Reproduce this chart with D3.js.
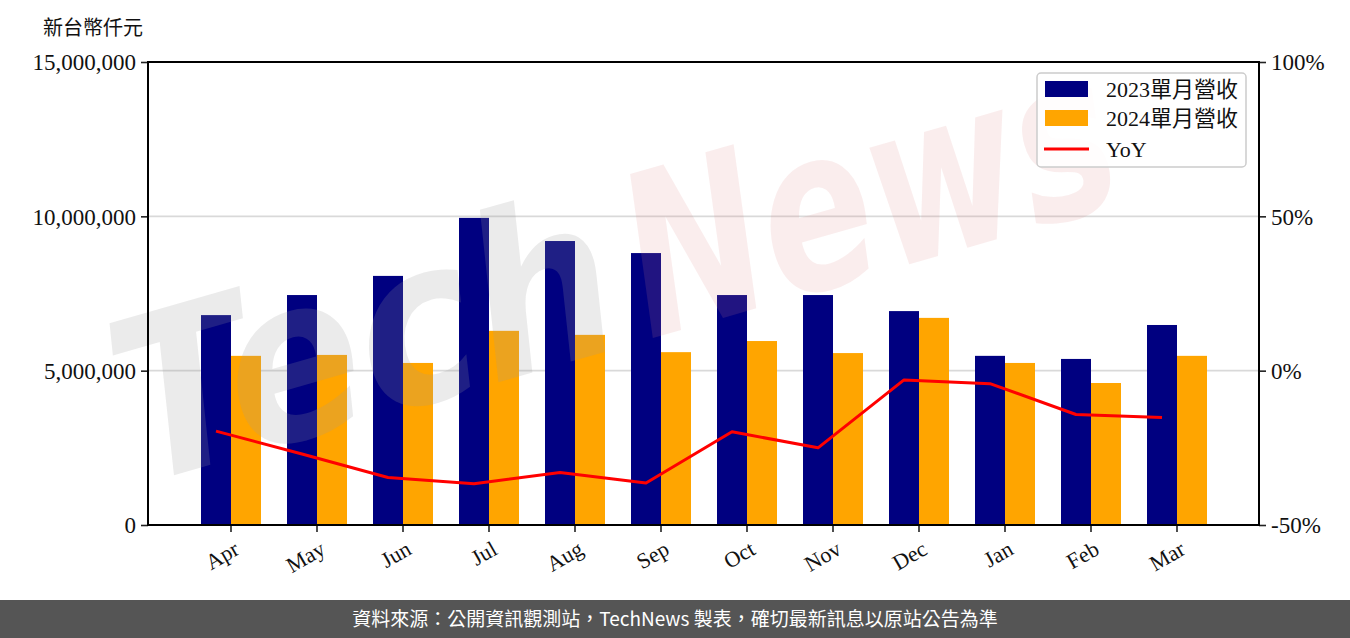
<!DOCTYPE html>
<html><head><meta charset="utf-8">
<script src="https://cdn.jsdelivr.net/npm/d3@7"></script>
<style>
html,body{margin:0;padding:0;background:#fff;}
svg{display:block;}
</style></head>
<body>
<svg id="c" width="1350" height="638"></svg>
<script>
const months = ["Apr","May","Jun","Jul","Aug","Sep","Oct","Nov","Dec","Jan","Feb","Mar"];
const rev2023 = [6800000,7450000,8070000,9950000,9200000,8810000,7450000,7450000,6930000,5480000,5380000,6480000];
const rev2024 = [5480000,5510000,5250000,6290000,6160000,5600000,5960000,5570000,6710000,5250000,4600000,5480000];
const yoy = [-19.6,-27.0,-34.6,-36.6,-33.0,-36.4,-19.8,-25.0,-3.0,-4.2,-14.2,-15.2];
const leftTicks = [0,5000000,10000000,15000000];
const rightTicks = [-50,0,50,100];
const seriesNames = ["2023單月營收","2024單月營收","YoY"];

const W=1350,H=638;
const L=148,R=1259,T=62,B=525;
const serif = "'Liberation Serif','Noto Sans CJK TC',serif";
const sans = "'Noto Sans CJK TC','Noto Sans',sans-serif";
const svg = d3.select("#c");

const x = d3.scaleBand().domain(months).range([L+40,R-39]).padding(0);
const bw = 30;
const y = d3.scaleLinear().domain([0,15000000]).range([B,T]);
const y2 = d3.scaleLinear().domain([-50,100]).range([B,T]);
const cx = m => x(m)+x.bandwidth()/2;

// grid
svg.append("g").selectAll("line").data(leftTicks.filter(d=>d>0 && d<15000000)).join("line")
  .attr("x1",L).attr("x2",R).attr("y1",d=>y(d)).attr("y2",d=>y(d))
  .attr("stroke","#d9d9d9").attr("stroke-width",1.6);

// bars
svg.append("g").selectAll("rect").data(months).join("rect")
  .attr("x",m=>cx(m)-bw).attr("width",bw)
  .attr("y",(m,i)=>y(rev2023[i])).attr("height",(m,i)=>B-y(rev2023[i]))
  .attr("fill","#000080");
svg.append("g").selectAll("rect").data(months).join("rect")
  .attr("x",m=>cx(m)).attr("width",bw)
  .attr("y",(m,i)=>y(rev2024[i])).attr("height",(m,i)=>B-y(rev2024[i]))
  .attr("fill","#FFA500");

// yoy line
const line = d3.line().x((d,i)=>cx(months[i])-bw/2).y(d=>y2(d));
svg.append("path").datum(yoy).attr("d",line).attr("fill","none")
  .attr("stroke","#ff0000").attr("stroke-width",3).attr("stroke-linejoin","round");

// watermark
const wm = svg.append("g").attr("transform","translate(140,485) rotate(-16)")
  .attr("font-family","'DejaVu Sans',sans-serif").attr("font-weight","bold")
  .attr("font-style","italic").attr("font-size",225);
wm.append("text").attr("x",0).attr("y",0).text("Tech")
  .attr("textLength",510).attr("lengthAdjust","spacingAndGlyphs")
  .attr("fill","#9a9a9a").attr("fill-opacity",0.2);
wm.append("text").attr("x",530).attr("y",0).text("News")
  .attr("textLength",500).attr("lengthAdjust","spacingAndGlyphs")
  .attr("fill","#e08585").attr("fill-opacity",0.15);

// axes
const ax = svg.append("g").attr("transform",`translate(0,${B})`)
  .call(d3.axisBottom(x).tickSize(7).tickSizeOuter(0).tickFormat(""));
const ay = svg.append("g").attr("transform",`translate(${L},0)`)
  .call(d3.axisLeft(y).tickValues(leftTicks).tickSize(7).tickSizeOuter(0).tickFormat(d3.format(",")));
const ay2 = svg.append("g").attr("transform",`translate(${R},0)`)
  .call(d3.axisRight(y2).tickValues(rightTicks).tickSize(7).tickSizeOuter(0).tickFormat(d=>d+"%"));
[ax,ay,ay2].forEach(g=>{
  g.select(".domain").remove();
  g.selectAll(".tick line").attr("stroke","#222").attr("stroke-width",1.6);
  g.selectAll("text").attr("font-family",serif).attr("font-size",23).attr("fill","#111");
});
ay.selectAll("text").attr("x",-12).attr("dy","0.34em");
ay2.selectAll("text").attr("x",12).attr("dy","0.34em");

// x labels rotated
svg.append("g").selectAll("text").data(months).join("text")
  .attr("transform",m=>`translate(${cx(m)+2},${540}) rotate(-30)`)
  .attr("text-anchor","end").attr("dy","0.7em")
  .attr("font-family",serif).attr("font-size",22).attr("fill","#111")
  .text(m=>m);

// frame
svg.append("rect").attr("x",L).attr("y",T).attr("width",R-L).attr("height",B-T)
  .attr("fill","none").attr("stroke","#000").attr("stroke-width",2);

// unit title
svg.append("text").attr("x",43).attr("y",35).attr("font-family",serif)
  .attr("font-size",20).attr("fill","#111").text("新台幣仟元");

// legend
const lg = svg.append("g");
lg.append("rect").attr("x",1037).attr("y",73).attr("width",209).attr("height",94)
  .attr("rx",4).attr("fill","#fff").attr("fill-opacity",0.85).attr("stroke","#cccccc").attr("stroke-width",1.5);
const rowsY=[89,118,149];
lg.append("rect").attr("x",1045).attr("y",81).attr("width",43).attr("height",16).attr("fill","#000080");
lg.append("rect").attr("x",1045).attr("y",110).attr("width",43).attr("height",16).attr("fill","#FFA500");
lg.append("line").attr("x1",1044).attr("x2",1089).attr("y1",149).attr("y2",149).attr("stroke","#ff0000").attr("stroke-width",3);
lg.selectAll("text.l").data(seriesNames).join("text").attr("class","l")
  .attr("x",1106).attr("y",(d,i)=>rowsY[i]).attr("dy","0.36em")
  .attr("font-family",serif).attr("font-size",22).attr("fill","#111").text(d=>d);

// footer
svg.append("rect").attr("x",0).attr("y",600).attr("width",W).attr("height",38).attr("fill","#555555");
svg.append("text").attr("x",675).attr("y",619).attr("dy","0.35em").attr("text-anchor","middle")
  .attr("font-family",sans).attr("font-size",19).attr("fill","#fff")
  .text("資料來源：公開資訊觀測站，TechNews 製表，確切最新訊息以原站公告為準");
</script>
</body></html>
